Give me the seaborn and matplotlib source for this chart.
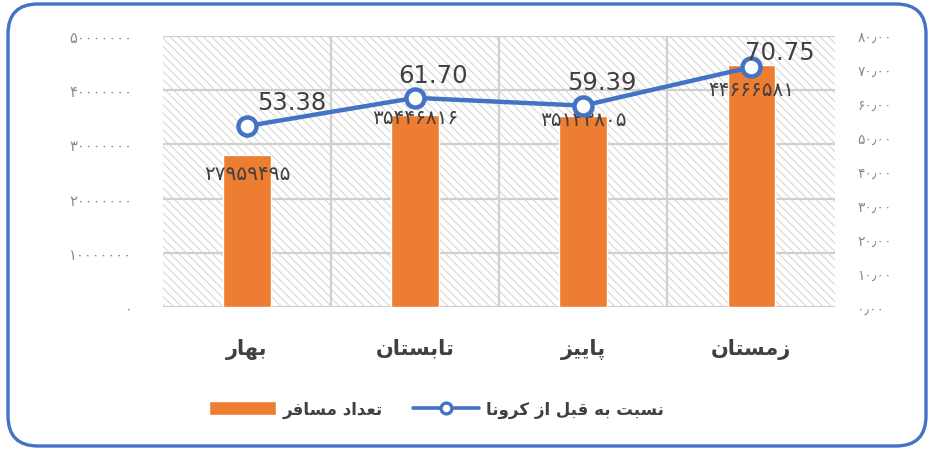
import numpy as np
import pandas as pd
import matplotlib
matplotlib.use("Agg")
import matplotlib.pyplot as plt
import seaborn as sns
from matplotlib.patches import FancyBboxPatch, Rectangle
from matplotlib.ticker import FixedLocator

# ---------------- data ----------------
seasons = ["بهار", "تابستان", "پاییز", "زمستان"]
passengers = [27959495, 35446816, 35123805, 44666581]
ratio_pct = [53.38, 61.70, 59.39, 70.75]
bar_series_name = "تعداد مسافر"
line_series_name = "نسبت به قبل از کرونا"
left_ticks = [0, 10000000, 20000000, 30000000, 40000000, 50000000]
right_ticks = [0, 10, 20, 30, 40, 50, 60, 70, 80]

# ---------------- helpers (Persian shaping for matplotlib) ----------------
FORMS = {
    'ا': ('\uFE8D', '\uFE8E', None, None),
    'ب': ('\uFE8F', '\uFE90', '\uFE91', '\uFE92'),
    'پ': ('\uFB56', '\uFB57', '\uFB58', '\uFB59'),
    'ت': ('\uFE95', '\uFE96', '\uFE97', '\uFE98'),
    'د': ('\uFEA9', '\uFEAA', None, None),
    'ر': ('\uFEAD', '\uFEAE', None, None),
    'ز': ('\uFEAF', '\uFEB0', None, None),
    'س': ('\uFEB1', '\uFEB2', '\uFEB3', '\uFEB4'),
    'ع': ('\uFEC9', '\uFECA', '\uFECB', '\uFECC'),
    'ف': ('\uFED1', '\uFED2', '\uFED3', '\uFED4'),
    'ق': ('\uFED5', '\uFED6', '\uFED7', '\uFED8'),
    'ک': ('\uFB8E', '\uFB8F', '\uFB90', '\uFB91'),
    'ل': ('\uFEDD', '\uFEDE', '\uFEDF', '\uFEE0'),
    'م': ('\uFEE1', '\uFEE2', '\uFEE3', '\uFEE4'),
    'ن': ('\uFEE5', '\uFEE6', '\uFEE7', '\uFEE8'),
    'ه': ('\uFEE9', '\uFEEA', '\uFEEB', '\uFEEC'),
    'و': ('\uFEED', '\uFEEE', None, None),
    'ی': ('\uFBFC', '\uFBFD', '\uFBFE', '\uFBFF'),
}


def shape(s):
    out = []
    for i, c in enumerate(s):
        if c not in FORMS:
            out.append(c)
            continue
        f = FORMS[c]
        prev = s[i - 1] if i > 0 else ''
        nxt = s[i + 1] if i + 1 < len(s) else ''
        jp = prev in FORMS and FORMS[prev][2] is not None
        jn = nxt in FORMS and f[2] is not None
        if jp and jn:
            out.append(f[3])
        elif jp:
            out.append(f[1])
        elif jn:
            out.append(f[2])
        else:
            out.append(f[0])
    return ''.join(reversed(out))


FA = str.maketrans("0123456789.", "۰۱۲۳۴۵۶۷۸۹٫")


def fa_num(s):
    return s.translate(FA)


# ---------------- style ----------------
sns.set_style("white")
plt.rcParams["font.family"] = ["DejaVu Sans"]
plt.rcParams["hatch.linewidth"] = 0.8

ORANGE = "#ED7D31"
BLUE = "#4472C4"
TXT = "#404040"
GRID = "#d0d0d0"

df = pd.DataFrame({
    "label": [shape(s) for s in seasons],
    "pos": np.arange(len(seasons)),
    "passengers": passengers,
    "ratio": ratio_pct,
})

fig = plt.figure(figsize=(9.33, 4.52), dpi=100)
ax = fig.add_axes([0.1747, 0.3186, 0.7203, 0.600])

# hatched plot background
ax.add_patch(Rectangle((0, 0), 1, 1, transform=ax.transAxes, facecolor="white",
                       edgecolor="#d8d8d8", linewidth=0, hatch="\\\\\\\\", zorder=0))

sns.barplot(data=df, x="label", y="passengers", ax=ax, color=ORANGE,
            saturation=1, width=0.28, zorder=3, label=shape(bar_series_name))
h1, l1 = ax.get_legend_handles_labels()
if ax.get_legend() is not None:
    ax.get_legend().remove()

ax.set_xlim(-0.5, len(seasons) - 0.5)
ax.set_ylim(0, 50000000)
ax.yaxis.set_major_locator(FixedLocator(left_ticks))
ax.set_yticklabels([fa_num(str(v)) for v in left_ticks])
ax.xaxis.set_minor_locator(FixedLocator(np.arange(0.5, len(seasons) - 0.5, 1.0)))
ax.grid(True, axis="y", which="major", color=GRID, linewidth=1.6, zorder=1)
ax.grid(True, axis="x", which="minor", color=GRID, linewidth=1.6, zorder=1)
ax.grid(False, axis="x", which="major")
ax.set_axisbelow(True)
ax.set_xlabel("")
ax.set_ylabel("")
for sp in ax.spines.values():
    sp.set_visible(False)
ax.tick_params(axis="y", length=0, labelsize=10.5, labelcolor="#8a8a8a", pad=22)
ax.tick_params(axis="x", which="both", length=0, labelsize=15, labelcolor=TXT, pad=22)
for t in ax.get_xticklabels():
    t.set_fontweight("bold")

# bar value labels
bar_label_offsets = [-18, -3, -3, -25]
for i, v in enumerate(passengers):
    ax.annotate(fa_num(str(v)), (i, v), xytext=(0, bar_label_offsets[i]),
                textcoords="offset pixels", ha="center", va="center",
                fontsize=14.5, color=TXT, zorder=5)

# line on secondary axis
ax2 = ax.twinx()
sns.lineplot(data=df, x="pos", y="ratio", ax=ax2, color=BLUE, linewidth=3.2,
             marker="o", markersize=13, markerfacecolor="white",
             markeredgecolor=BLUE, markeredgewidth=3.2, sort=False,
             label=shape(line_series_name), legend=False, zorder=6)
ax2.set_xlim(-0.5, len(seasons) - 0.5)
ax2.set_ylim(0, 80)
ax2.yaxis.set_major_locator(FixedLocator(right_ticks))
ax2.set_yticklabels([fa_num(f"{v:.2f}") for v in right_ticks])
ax2.set_xlabel("")
ax2.set_ylabel("")
for sp in ax2.spines.values():
    sp.set_visible(False)
ax2.tick_params(axis="y", length=0, labelsize=10, labelcolor="#8a8a8a", pad=16)
h2, l2 = ax2.get_legend_handles_labels()
if ax2.get_legend() is not None:
    ax2.get_legend().remove()

line_label_offsets = [(45, 24), (18, 23), (19, 24), (29, 15)]
for i, v in enumerate(ratio_pct):
    dx, dy = line_label_offsets[i]
    ax2.annotate(f"{v:.2f}", (i, v), xytext=(dx, dy), textcoords="offset pixels",
                 ha="center", va="center", fontsize=17.5, color=TXT, zorder=7)

# legend
leg = fig.legend(h1 + h2, l1 + l2, loc="center", bbox_to_anchor=(0.468, 0.093),
                 ncol=2, frameon=False, handlelength=4.0, handleheight=0.9,
                 handletextpad=0.4, columnspacing=1.8, markerscale=0.6,
                 prop={"size": 12, "weight": "bold"})
for t in leg.get_texts():
    t.set_color(TXT)
for lh in leg.get_lines():
    lh.set_linewidth(2.6)
    lh.set_markeredgewidth(2.4)

# rounded outer border
fig.patches.append(FancyBboxPatch((0.08, 0.05), 9.18, 4.42,
                                  boxstyle="round,pad=0,rounding_size=0.3",
                                  transform=fig.dpi_scale_trans, fill=False,
                                  edgecolor=BLUE, linewidth=2.4, zorder=10))

fig.savefig("out.png", dpi=100, facecolor="white")
